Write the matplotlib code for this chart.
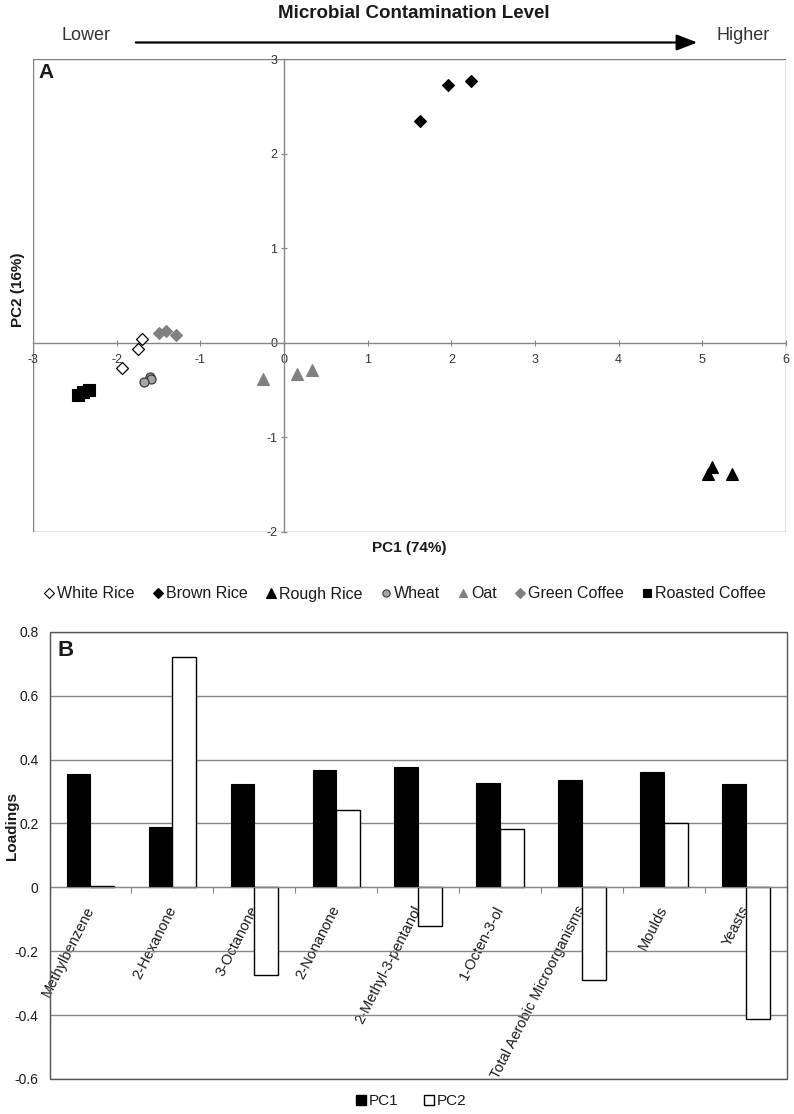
import matplotlib
matplotlib.use('Agg')
import matplotlib.pyplot as plt
from matplotlib.patches import Rectangle
from matplotlib.lines import Line2D

plt.rcParams['font.family'] = ['Liberation Sans', 'DejaVu Sans']

# ---------------- Panel A data (PCA scores) ----------------
white_rice_pc1 = [-1.70, -1.74, -1.94]
white_rice_pc2 = [0.04, -0.07, -0.27]
brown_rice_pc1 = [1.63, 1.96, 2.23]
brown_rice_pc2 = [2.34, 2.73, 2.77]
rough_rice_pc1 = [5.07, 5.12, 5.36]
rough_rice_pc2 = [-1.39, -1.31, -1.39]
wheat_pc1 = [-1.60, -1.59, -1.67]
wheat_pc2 = [-0.36, -0.38, -0.41]
oat_pc1 = [-0.25, 0.16, 0.34]
oat_pc2 = [-0.38, -0.33, -0.29]
green_coffee_pc1 = [-1.49, -1.41, -1.29]
green_coffee_pc2 = [0.10, 0.13, 0.08]
roasted_coffee_pc1 = [-2.46, -2.40, -2.33]
roasted_coffee_pc2 = [-0.55, -0.52, -0.50]

a_xticks = [-3, -2, -1, 0, 1, 2, 3, 4, 5, 6]
a_yticks = [-2, -1, 0, 1, 2, 3]

# ---------------- Panel B data (loadings) ----------------
compounds = ['Methylbenzene', '2-Hexanone', '3-Octanone', '2-Nonanone',
             '2-Methyl-3-pentanol', '1-Octen-3-ol',
             'Total Aerobic Microorganisms', 'Moulds', 'Yeasts']
pc1_loadings = [0.355, 0.19, 0.323, 0.368, 0.378, 0.328, 0.337, 0.36, 0.323]
pc2_loadings = [0.005, 0.722, -0.275, 0.242, -0.122, 0.182, -0.29, 0.202, -0.412]
b_yticks = [-0.6, -0.4, -0.2, 0.0, 0.2, 0.4, 0.6, 0.8]
b_yticklabels = ['-0.6', '-0.4', '-0.2', '0', '0.2', '0.4', '0.6', '0.8']

W, H = 794, 1114
TXT = '#1a1a1a'
AX = '#868686'

fig = plt.figure(figsize=(W / 100, H / 100), dpi=100)

# ---------------- Header ----------------
fig.text(414 / W, 1 - 13 / H, 'Microbial Contamination Level', ha='center', va='center',
         fontsize=13.5, fontweight='bold', color=TXT)
fig.text(86 / W, 1 - 35 / H, 'Lower', ha='center', va='center', fontsize=13, color='#333333')
fig.text(743 / W, 1 - 35 / H, 'Higher', ha='center', va='center', fontsize=13, color='#333333')
fig.add_artist(matplotlib.patches.FancyArrowPatch(
    (133 / W, 1 - 42.5 / H), (700 / W, 1 - 42.5 / H), transform=fig.transFigure,
    arrowstyle='-|>,head_length=0.9,head_width=0.35', mutation_scale=14,
    color='black', linewidth=1.6))

# ---------------- Panel A ----------------
axA = fig.add_axes([33 / W, 1 - 532 / H, 753 / W, 473 / H])
axA.set_xlim(-3, 6)
axA.set_ylim(-2, 3)
for s in ['top', 'right']:
    axA.spines[s].set_visible(False)
axA.spines['left'].set_position(('data', 0))
axA.spines['bottom'].set_position(('data', 0))
for s in ['left', 'bottom']:
    axA.spines[s].set_color(AX)
    axA.spines[s].set_linewidth(1.0)
axA.add_patch(Rectangle((0, 0), 1, 1, transform=axA.transAxes, fill=False,
                        edgecolor='#7f7f7f', linewidth=1.0, zorder=1))
axA.set_xticks(a_xticks)
axA.set_xticklabels([str(v) for v in a_xticks])
axA.set_yticks(a_yticks)
axA.set_yticklabels([str(v) for v in a_yticks])
axA.tick_params(axis='x', direction='inout', length=4, width=0.8, color=AX, pad=6,
                labelsize=9, labelcolor='#333333')
axA.tick_params(axis='y', direction='inout', length=4, width=0.8, color=AX, pad=3,
                labelsize=9, labelcolor='#333333')
axA.set_facecolor('none')

styleA = dict(linestyle='none', clip_on=False, zorder=3)
hA = []
hA.append(axA.plot(white_rice_pc1, white_rice_pc2, marker='D', ms=6.2, mfc='white', mec='black',
                   mew=0.9, label='White Rice', **styleA)[0])
hA.append(axA.plot(brown_rice_pc1, brown_rice_pc2, marker='D', ms=6.4, mfc='black', mec='black',
                   mew=0.8, label='Brown Rice', **styleA)[0])
hA.append(axA.plot(rough_rice_pc1, rough_rice_pc2, marker='^', ms=9, mfc='black', mec='black',
                   mew=0.8, label='Rough Rice', **styleA)[0])
hA.append(axA.plot(wheat_pc1, wheat_pc2, marker='o', ms=6.5, mfc='#a6a6a6', mec='#3a3a3a',
                   mew=0.9, label='Wheat', **styleA)[0])
hA.append(axA.plot(oat_pc1, oat_pc2, marker='^', ms=8, mfc='#808080', mec='#808080',
                   mew=0.8, label='Oat', **styleA)[0])
hA.append(axA.plot(green_coffee_pc1, green_coffee_pc2, marker='D', ms=6, mfc='#808080',
                   mec='#808080', mew=0.8, label='Green Coffee', **styleA)[0])
hA.append(axA.plot(roasted_coffee_pc1, roasted_coffee_pc2, marker='s', ms=8, mfc='black',
                   mec='black', mew=0.8, label='Roasted Coffee', **styleA)[0])

fig.text(46 / W, 1 - 72 / H, 'A', ha='center', va='center', fontsize=15,
         fontweight='bold', color=TXT)
fig.text(409 / W, 1 - 548 / H, 'PC1 (74%)', ha='center', va='center', fontsize=11,
         fontweight='bold', color=TXT)
fig.text(18 / W, 1 - 290 / H, 'PC2 (16%)', ha='center', va='center', fontsize=11,
         fontweight='bold', color=TXT, rotation=90)

leg_handles = []
for h in hA:
    leg_handles.append(Line2D([], [], linestyle='none', marker=h.get_marker(),
                              ms=h.get_markersize() * 0.8, mfc=h.get_markerfacecolor(),
                              mec=h.get_markeredgecolor(), mew=0.8))
fig.legend(leg_handles, [h.get_label() for h in hA], loc='center',
           bbox_to_anchor=(406 / W, 1 - 594 / H), ncol=7, frameon=False,
           fontsize=11.5, handlelength=0.4, handletextpad=0.3, columnspacing=1.25,
           labelcolor=TXT, borderpad=0, borderaxespad=0)

# ---------------- Panel B ----------------
axB = fig.add_axes([49.5 / W, 1 - 1079 / H, 737.5 / W, 447.3 / H])
x = list(range(len(compounds)))
bw = 0.29
axB.bar([i - bw / 2 for i in x], pc1_loadings, width=bw, color='black', edgecolor='black',
        linewidth=0.8, zorder=3, label='PC1')
axB.bar([i + bw / 2 for i in x], pc2_loadings, width=bw, color='white', edgecolor='black',
        linewidth=1.0, zorder=3, label='PC2')
axB.set_xlim(-0.5, len(compounds) - 0.5)
axB.set_ylim(-0.6, 0.8)
axB.set_yticks(b_yticks)
axB.set_yticklabels(b_yticklabels)
axB.yaxis.grid(True, color=AX, linewidth=1.0, zorder=0)
axB.set_axisbelow(True)
for s in ['top', 'right', 'bottom']:
    axB.spines[s].set_visible(False)
axB.spines['left'].set_color(AX)
axB.spines['bottom'].set_visible(True)
axB.spines['bottom'].set_position(('data', 0))
axB.spines['bottom'].set_color(AX)
axB.spines['bottom'].set_zorder(4)
axB.add_patch(Rectangle((0, 0), 1, 1, transform=axB.transAxes, fill=False,
                        edgecolor='#555555', linewidth=1.0, zorder=5, clip_on=False))
axB.tick_params(axis='y', direction='out', length=0, pad=8, labelsize=10, labelcolor=TXT)
axB.set_xticks(x)
axB.set_xticklabels(compounds, rotation=63, ha='right', va='center',
                    rotation_mode='anchor', fontsize=10.5, color=TXT)
axB.set_xticks([i + 0.5 for i in range(-1, len(compounds))], minor=True)
axB.tick_params(axis='x', which='major', length=0, pad=14)
axB.tick_params(axis='x', which='minor', direction='out', length=4, color=AX, width=0.8)

fig.text(12.5 / W, 1 - 826 / H, 'Loadings', ha='center', va='center', fontsize=11,
         fontweight='bold', color=TXT, rotation=90)
fig.text(66 / W, 1 - 650 / H, 'B', ha='center', va='center', fontsize=16,
         fontweight='bold', color=TXT)

legB = [Line2D([], [], linestyle='none', marker='s', ms=6.5, mfc='black', mec='black'),
        Line2D([], [], linestyle='none', marker='s', ms=6.5, mfc='white', mec='black', mew=1.0)]
fig.legend(legB, ['PC1', 'PC2'], loc='center', bbox_to_anchor=(412 / W, 1 - 1101 / H),
           ncol=2, frameon=False, fontsize=11, handlelength=0.4, handletextpad=0.3,
           columnspacing=1.8, labelcolor=TXT, borderpad=0, borderaxespad=0)

fig.savefig('out.png', dpi=100)
